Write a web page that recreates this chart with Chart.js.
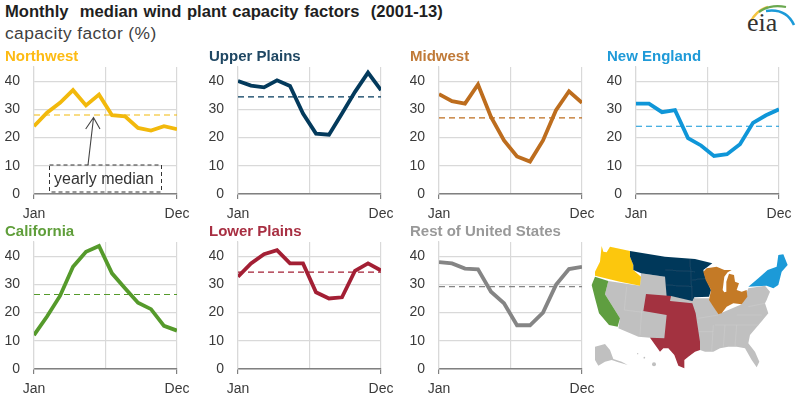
<!DOCTYPE html>
<html><head><meta charset="utf-8">
<script src="https://cdn.jsdelivr.net/npm/chart.js@4"></script>
<style>
html,body{margin:0;padding:0;background:#fff;width:800px;height:401px;overflow:hidden;font-family:"Liberation Sans",Arial,sans-serif}
canvas{position:absolute}
.t{position:absolute;white-space:pre;color:#1f1f1f}
svg{position:absolute;overflow:visible}
</style></head><body>
<div class="t" style="left:5px;top:1px;font-size:16.6px;font-weight:bold;line-height:22px;word-spacing:1px">Monthly  median wind plant capacity factors  (2001-13)</div>
<div class="t" style="left:5px;top:23px;font-size:17.4px;line-height:20px;color:#404040;letter-spacing:.4px">capacity factor (%)</div>

<svg id="map" style="left:585px;top:235px" width="210" height="166" viewBox="0 0 630 498">
<defs><filter id="soft"><feGaussianBlur stdDeviation="1.2"/></filter></defs>
<g filter="url(#soft)">
<polygon fill="#c0c0c0" points="60,178 70,138 165,152 168,115 240,125 330,190 372,190 400,238 470,208 490,160 540,152 555,170 545,195 540,205 550,235 525,265 495,300 490,325 510,350 523,380 515,397 500,375 480,340 455,335 430,335 405,340 385,350 360,350 345,345 300,350 195,308 160,305 100,280 105,250"/>
<path fill="none" stroke="#cdcdcd" stroke-width="1.6" d="M125,155 L118,225 M170,225 L165,300 M118,225 L175,232 M390,270 L520,270 M380,348 L385,270 M415,335 L420,270 M450,335 L455,270 M340,250 L400,240 M340,290 L385,290 M490,215 L540,205 M455,240 L530,240"/>
<polygon fill="#fcc70a" points="50,33 55,50 65,52 75,35 135,48 135,65 145,90 145,105 168,125 165,152 105,140 30,122 30,110 45,80"/>
<polygon fill="#06395a" points="135,48 240,65 330,72 382,85 355,105 362,130 378,165 372,185 328,187 322,198 258,183 245,185 240,125 168,115 145,105 145,90 135,65"/>
<path fill="none" stroke="#1f4f6e" stroke-width="1.6" d="M242,105 L330,110 M245,150 L322,155 M315,72 L322,198 M322,135 L362,130"/>
<polygon fill="#5e9e40" points="30,125 70,138 60,178 105,250 98,275 72,270 42,235 30,190 20,150"/>
<polygon fill="#a3303f" points="183,177 258,183 255,198 322,205 332,235 335,255 345,320 345,345 330,350 310,365 298,375 298,400 280,392 268,360 250,340 235,340 225,350 195,308 238,310 245,240 175,228"/>
<polygon fill="#c47a28" points="355,110 365,100 395,95 418,105 440,105 428,112 418,125 413,165 418,172 424,170 424,140 432,116 447,120 450,140 462,145 455,165 470,170 485,165 487,185 470,208 445,205 425,215 410,235 400,238 385,215 372,195 378,165 362,135"/>
<polygon fill="#1b9ad8" points="490,155 520,130 548,105 575,95 580,60 595,58 608,90 590,110 580,150 565,160 545,152"/>
<polygon fill="#c0c0c0" points="30,335 60,327 75,345 85,372 110,380 128,390 100,382 80,375 60,380 40,392 30,375"/>
<circle cx="207" cy="388" r="6" fill="#c0c0c0"/><circle cx="178" cy="368" r="2.5" fill="#c0c0c0"/><circle cx="158" cy="356" r="2" fill="#c0c0c0"/>
</g>
</svg>

<svg id="logo" style="left:730px;top:0" width="70" height="45" viewBox="0 0 70 45">
<path d="M21 21 Q27 10 38 7" fill="none" stroke="#f4c542" stroke-width="2.4"/>
<path d="M29 12 Q40 4 56 7" fill="none" stroke="#6aa84f" stroke-width="2.2"/>
<path d="M36 11 Q56 8 64 25" fill="none" stroke="#1b9ad8" stroke-width="2.6"/>
<text x="17" y="31" font-family="Liberation Serif" font-size="26" fill="#333">eia</text>
</svg>

<script>
const months = ["Jan","Feb","Mar","Apr","May","Jun","Jul","Aug","Sep","Oct","Nov","Dec"];
const yTicks = [0,10,20,30,40];
const northwest = [24,28.8,32.3,36.8,31.4,35.2,27.9,27.5,23.4,22.5,24,23];
const upperPlains = [40,38.4,37.8,40.3,38.3,28.5,21.4,21,28.5,36.2,43,36.8];
const midwest = [35.4,32.9,32,38.8,27.3,19,13.3,11.5,19,29.7,36.4,32.3];
const newEngland = [32,32,29,29.7,19.8,17.2,13.5,14.1,17.6,25.2,27.9,30];
const california = [12,18.6,25.9,36.2,41.5,43.6,33.9,28.6,23.5,21.2,15.3,13.6];
const lowerPlains = [32.7,37.4,40.7,42.1,37.4,37.4,27.2,25,25.4,34.8,37.4,34.9];
const restOfUS = [37.9,37.4,35.6,35.3,27.4,23.3,15.5,15.5,20,29.8,35.4,36.2];
const medians = {Northwest:28,"Upper Plains":34.4,Midwest:27,"New England":24,California:26.4,"Lower Plains":34.3,"Rest of United States":29.2};

const panels = [
 ["Northwest",northwest,"#f2b90c","#fdbb13",34,67,127],
 ["Upper Plains",upperPlains,"#033a5c","#1f4763",238.5,67,127],
 ["Midwest",midwest,"#bd6d1e","#c07a38",439,67,127],
 ["New England",newEngland,"#0f96d8","#1f9ad8",636,67,127],
 ["California",california,"#559a2b","#5f9e3a",34,242,127],
 ["Lower Plains",lowerPlains,"#a31f34","#a82f42",238.5,242,127],
 ["Rest of United States",restOfUS,"#858585","#999999",439,242,127]
];
const tc = "#3a3a3a", grid = "#d9d9d9";
panels.forEach(([name,vals,col,tcol,px,py,ph])=>{
  const c = document.createElement("canvas");
  const w = 34+143+26, h = 19+ph+30;
  const left = Math.floor(px)-34;
  c.width=w; c.height=h;
  c.style.cssText=`left:${left}px;top:${py-19}px;width:${w}px;height:${h}px`;
  document.body.appendChild(c);
  new Chart(c,{type:"line",
    data:{labels:months,datasets:[
      {data:vals.map((v,i)=>({x:i,y:v})),borderColor:col,borderWidth:3.8,pointRadius:0,tension:0,borderJoinStyle:"miter",order:1},
      {data:months.map((m,i)=>({x:i,y:medians[name]})),borderColor:col,borderWidth:1.2,borderDash:[6,4],pointRadius:0,tension:0,order:2}
    ]},
    options:{responsive:false,animation:false,devicePixelRatio:1,
      layout:{autoPadding:false,padding:{left:5,right:26,top:0,bottom:0}},
      plugins:{legend:{display:false},tooltip:{enabled:false},
        title:{display:true,text:name,align:"start",color:tcol,
          font:{family:"Liberation Sans",size:15,weight:"bold",lineHeight:1.2},padding:{top:0,bottom:1}}},
      scales:{
        x:{type:"linear",min:0,max:months.length-1,
          afterBuildTicks:s=>{s.ticks=[0,(months.length-1)/2,months.length-1].map(value=>({value}));},
          afterFit:s=>{s.height=30;},
          ticks:{autoSkip:false,maxRotation:0,padding:7,color:tc,font:{family:"Liberation Sans",size:14},
            callback:v=>v===0?months[0]:(v===months.length-1?months[months.length-1]:"")},
          grid:{color:grid,lineWidth:1.2,drawTicks:true,tickLength:5,
            tickColor:ctx=>(ctx.tick&&ctx.tick.value===(months.length-1)/2)?"rgba(0,0,0,0)":"#808080"},
          border:{color:"#808080",width:1.4}},
        y:{type:"linear",min:0,max:45,
          afterBuildTicks:s=>{s.ticks=yTicks.map(value=>({value}));},
          afterFit:s=>{s.width=29;s.paddingTop=0;s.paddingBottom=0;},
          ticks:{padding:14,color:tc,font:{family:"Liberation Sans",size:14}},
          grid:{color:grid,lineWidth:1.2,drawTicks:false},
          border:{color:grid,width:1.2}}
      }}
  });
});
</script>
<svg id="note" style="left:0;top:0" width="800" height="401">
<rect x="49.5" y="165" width="112" height="27" fill="none" stroke="#333" stroke-width="1" stroke-dasharray="4 3"/>
<text x="54" y="184" font-family="Liberation Sans" font-size="16" fill="#333">yearly median</text>
<path d="M88 165 L93.5 118 M85.7 129 L93.5 117.5 L100 129" fill="none" stroke="#444" stroke-width="1.1"/>
</svg>
</body></html>
